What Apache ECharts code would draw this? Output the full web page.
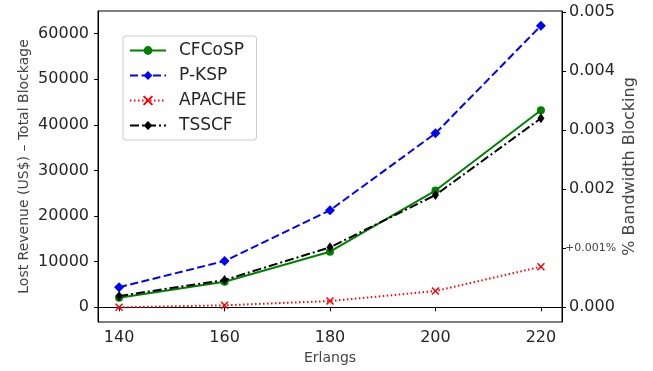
<!DOCTYPE html>
<html>
<head>
<meta charset="utf-8">
<script src="https://cdn.jsdelivr.net/npm/echarts@6/dist/echarts.min.js"></script>
<style>
  html, body { margin: 0; padding: 0; background: #fff; }
  #chart { width: 653px; height: 371px; }
</style>
</head>
<body>
<div id="chart"></div>
<script>
// erlang loads on the x axis
const erlangs = [140, 160, 180, 200, 220];

// lost revenue (US$) per algorithm
const cfcosp = [2100, 5600, 12200, 25600, 43200];
const pksp = [4400, 10150, 21270, 38150, 61750];
const apache = [0, 440, 1380, 3570, 8900];
const tsscf = [2480, 5990, 13150, 24630, 41450];

// tick labels
const leftTicks = [0, 10000, 20000, 30000, 40000, 50000, 60000];
const rightTicks = [0, 0.001, 0.002, 0.003, 0.004, 0.005];

const FONT = 'DejaVu Sans';
const TXT = '#262626';

const pairs = (ys) => erlangs.map((x, i) => [x, ys[i]]);

const chart = echarts.init(document.getElementById('chart'), null, { renderer: 'canvas' });

const option = {
  animation: false,
  backgroundColor: '#fff',
  textStyle: { fontFamily: FONT },
  grid: {
    left: 98, right: 91, top: 11, bottom: 49,
    outerBoundsMode: 'none',
    show: true, borderColor: '#000', borderWidth: 1
  },
  legend: {
    orient: 'vertical',
    left: 123, top: 36,
    padding: [6, 10, 6, 6],
    itemGap: 8,
    itemWidth: 36,
    itemHeight: 11,
    borderColor: '#ccc',
    borderWidth: 1,
    borderRadius: 3,
    backgroundColor: 'rgba(255,255,255,0.8)',
    textStyle: { fontFamily: FONT, fontSize: 17, color: TXT, padding: [0, 0, 0, 8] },
    data: ['CFCoSP', 'P-KSP', 'APACHE', 'TSSCF']
  },
  xAxis: {
    type: 'value',
    min: 136, max: 224,
    name: 'Erlangs',
    nameLocation: 'middle',
    nameGap: 28,
    nameTextStyle: { fontFamily: FONT, fontSize: 14, color: '#444' },
    axisLine: { show: true, lineStyle: { color: '#000', width: 1 } },
    axisTick: { show: true, length: 4, inside: false, customValues: erlangs, lineStyle: { color: '#000' } },
    axisLabel: { customValues: erlangs, fontFamily: FONT, fontSize: 16, color: TXT, margin: 8 },
    splitLine: { show: false }
  },
  yAxis: [
    {
      type: 'value',
      position: 'left',
      min: -3220, max: 64980,
      name: 'Lost Revenue (US$) \u2013 Total Blockage',
      nameLocation: 'middle',
      nameGap: 67,
      nameMoveOverlap: false,
      nameTextStyle: { fontFamily: FONT, fontSize: 14, color: '#444' },
      axisLine: { show: true, lineStyle: { color: '#000', width: 1 } },
      axisTick: { show: true, length: 4, customValues: leftTicks, lineStyle: { color: '#000' } },
      axisLabel: {
        customValues: leftTicks, fontFamily: FONT, fontSize: 16, color: TXT, margin: 9,
        formatter: (v) => String(Math.round(v))
      },
      splitLine: { show: false }
    },
    {
      type: 'value',
      position: 'right',
      min: -0.00025, max: 0.00502,
      name: '% Bandwidth Blocking',
      nameLocation: 'middle',
      nameRotate: 90,
      nameGap: 60,
      nameMoveOverlap: false,
      nameTextStyle: { fontFamily: FONT, fontSize: 16, color: '#444' },
      axisLine: { show: true, lineStyle: { color: '#000', width: 1 } },
      axisTick: { show: true, length: 4, customValues: rightTicks, lineStyle: { color: '#000' } },
      axisLabel: {
        customValues: rightTicks,
        fontFamily: FONT, fontSize: 16, color: TXT, margin: 7,
        formatter: (v) => Math.abs(v - 0.001) < 1e-9 ? '{s|+0.001%}' : v.toFixed(3),
        rich: { s: { fontFamily: FONT, fontSize: 11, color: '#444', padding: [0, 0, 0, -4] } }
      },
      splitLine: { show: false }
    }
  ],
  series: [
    {
      name: 'CFCoSP', type: 'line', yAxisIndex: 0,
      data: pairs(cfcosp),
      symbol: 'circle', symbolSize: 8,
      lineStyle: { color: '#008000', width: 2, type: 'solid' },
      itemStyle: { color: '#008000' },
      z: 4
    },
    {
      name: 'P-KSP', type: 'line', yAxisIndex: 0,
      data: pairs(pksp),
      symbol: 'diamond', symbolSize: [10, 10],
      lineStyle: { color: '#0000ff', width: 2, type: [8, 3.5] },
      itemStyle: { color: '#0000ff' },
      z: 3
    },
    {
      name: 'APACHE', type: 'line', yAxisIndex: 0,
      data: pairs(apache),
      symbol: 'path://M0,0L10,10M10,0L0,10', symbolSize: 7,
      lineStyle: { color: '#ff0000', width: 2, type: [1.5, 2.5] },
      itemStyle: { color: '#ff0000', borderColor: '#ff0000', borderWidth: 1.5 },
      z: 2
    },
    {
      name: 'TSSCF', type: 'line', yAxisIndex: 0,
      data: pairs(tsscf),
      symbol: 'diamond', symbolSize: [7, 10],
      lineStyle: { color: '#000', width: 2, type: [9, 3, 2, 3] },
      itemStyle: { color: '#000' },
      z: 5
    }
  ]
};

chart.setOption(option);
</script>
</body>
</html>
